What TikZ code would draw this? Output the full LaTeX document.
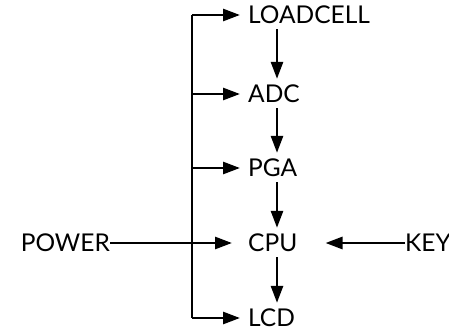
\documentclass[tikz,border=0pt]{standalone}
\usepackage{fontspec}
\setmainfont{Lato}
\usetikzlibrary{arrows.meta,positioning}
\tikzset{>={Triangle[length=17pt,width=12pt]}}
\tikzset{
  block/.style = {anchor=west, inner sep=0pt, font=\fontsize{24.5}{28}\selectfont},
  wire/.style = {line width=2.7pt}
}

\begin{document}
\begin{tikzpicture}[x=1pt,y=1pt]
    \useasboundingbox (0,0) rectangle (449,330);
    \node[block] (loadcell) at (248,315) {LOADCELL};
    \node[block] (adc) at (248,236) {ADC};
    \node[block] (pga) at (248,162) {PGA};
    \node[block] (cpu) at (248,87) {CPU};
    \node[block] (lcd) at (248,12) {LCD};
    \node[block,anchor=east] (power) at (110,87) {POWER};
    \node[block] (key) at (405,87) {KEY};
    \coordinate (bus) at (192,0);
    \coordinate (col) at (277,0);
    % power bus
    \draw[wire] (loadcell -| bus) -- (lcd -| bus);
    \draw[wire,->,shorten >=8pt] (loadcell -| bus) -- (loadcell.west);
    \draw[wire,->,shorten >=8pt] (adc -| bus) -- (adc.west);
    \draw[wire,->,shorten >=8pt] (pga -| bus) -- (pga.west);
    \draw[wire,->,shorten >=8pt] (lcd -| bus) -- (lcd.west);
    \draw[wire,->,shorten >=16pt] (power.east) -- (cpu.west);
    \draw[wire,->,shorten >=28pt] (key.west) -- (cpu.east);
    % signal chain
    \draw[wire,->,shorten <=5pt,shorten >=6pt] (loadcell.south -| col) -- (adc.north -| col);
    \draw[wire,->,shorten <=5pt,shorten >=6pt] (adc.south -| col) -- (pga.north -| col);
    \draw[wire,->,shorten <=5pt,shorten >=6pt] (pga.south -| col) -- (cpu.north -| col);
    \draw[wire,->,shorten <=5pt,shorten >=6pt] (cpu.south -| col) -- (lcd.north -| col);
\end{tikzpicture}
\end{document}
